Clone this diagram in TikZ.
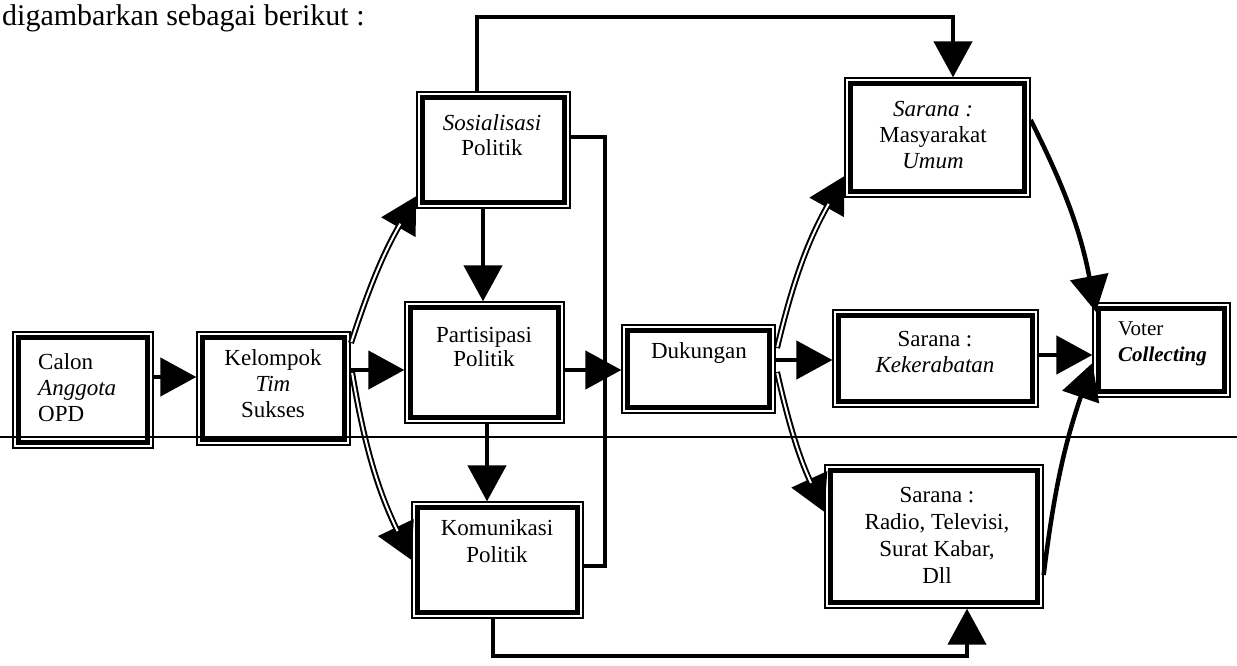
\documentclass[tikz,border=0pt]{standalone}
\usepackage{fontspec}
\setmainfont{Liberation Serif}
\usetikzlibrary{arrows.meta}
\begin{document}
\begin{tikzpicture}[x=1pt,y=-1pt,
  box/.style={draw, line width=1.3pt, inner sep=0pt},
  txt/.style={font=\fontsize{23}{26}\selectfont, align=center, inner sep=0pt, anchor=north},
  wire/.style={line width=4.5pt},
  tip/.style={-{Triangle[length=36pt,width=38pt]}},
  hollow/.style={line width=6pt, postaction={draw=white, line width=2pt, -, shorten >=32pt, shorten <=1pt}}
]
\useasboundingbox[fill=white] (0,0) rectangle (1237,665);

% lead-in sentence
\node[anchor=base west, inner sep=0pt, font=\fontsize{30}{32}\selectfont] (intro) at (2,25) {digambarkan sebagai berikut :};

% boxes (outer thin frame)
\node[box, minimum width=140pt, minimum height=116pt] (calon) at (83,390) {};
\node[box, minimum width=153pt, minimum height=113pt] (kel) at (273.5,388.5) {};
\node[box, minimum width=153pt, minimum height=116pt] (sos) at (493.5,150) {};
\node[box, minimum width=159pt, minimum height=121pt] (par) at (484.5,362.5) {};
\node[box, minimum width=171pt, minimum height=116pt] (kom) at (497.5,560) {};
\node[box, minimum width=153pt, minimum height=88pt] (duk) at (698.5,369) {};
\node[box, minimum width=185pt, minimum height=119pt] (mas) at (937.5,137.5) {};
\node[box, minimum width=205pt, minimum height=97pt] (ker) at (935.5,358.5) {};
\node[box, minimum width=137pt, minimum height=94pt] (vot) at (1161.5,350) {};
\node[box, minimum width=218pt, minimum height=143pt] (rad) at (934,536.5) {};

% inner thick frames
\foreach \n in {calon,kel,sos,par,kom,duk,mas,ker,vot,rad}
  \draw[line width=4.5pt] ([shift={(6pt,-6pt)}]\n.north west) rectangle ([shift={(-6pt,6pt)}]\n.south east);

% texts
\node[txt, anchor=north west, align=left] (tcalon) at (38,353) {Calon\\\textit{Anggota}\\OPD};
\node[txt] (tkel) at (273,349) {Kelompok\\\textit{Tim}\\Sukses};
\node[txt, font=\fontsize{23}{25}\selectfont] (tsos) at (492,114) {\textit{Sosialisasi}\\Politik};
\node[txt, font=\fontsize{23}{24}\selectfont] (tpar) at (484,327) {Partisipasi\\Politik};
\node[txt, font=\fontsize{23}{27}\selectfont] (tkom) at (497,519) {Komunikasi\\Politik};
\node[txt] (tduk) at (699,342) {Dukungan};
\node[txt] (tmas) at (933,101) {\textit{Sarana :}\\Masyarakat\\\textit{Umum}};
\node[txt] (tker) at (935,331) {Sarana :\\\textit{Kekerabatan}};
\node[txt, anchor=north west, align=left, font=\fontsize{21}{26}\selectfont] (tvot) at (1118,322) {Voter\\\textbf{\textit{Collecting}}};
\node[txt, font=\fontsize{23}{27}\selectfont] (trad) at (937,487) {Sarana :\\Radio, Televisi,\\Surat Kabar,\\Dll};

% connectors
\draw[wire,tip] (calon.east |- 0,377) -- (kel.west |- 0,377);
\draw[hollow,tip] (351,343) to[bend left=6] (sos.west |- 0,196);
\draw[wire,tip] (kel.east |- 0,370) -- (par.west |- 0,370);
\draw[hollow,tip] (352,372) to[bend right=8] (kom.west |- 0,560);
\draw[wire,tip] (sos.south -| 483,0) -- (par.north -| 483,0);
\draw[wire,tip] (par.south -| 487,0) -- (kom.north -| 487,0);
\draw[wire,tip] (sos.north -| 477,0) |- (953,17) -- (mas.north -| 953,0);
\draw[wire] (sos.east |- 0,137) -| (605,300) |- (kom.east |- 0,566);
\draw[wire,tip] (par.east |- 0,370) -- (duk.west |- 0,370);
\draw[wire,tip] (kom.south -| 493,0) |- (967,656) -- (rad.south -| 967,0);
\draw[hollow,tip] (777,348) to[bend left=8] (mas.west |- 0,176);
\draw[wire,tip] (duk.east |- 0,360) -- (ker.west |- 0,360);
\draw[hollow,tip] (777,372) to[bend right=6] (rad.west |- 0,512);
\draw[wire,tip] (mas.east |- 0,120) to[bend left=8] (1096,312);
\draw[wire,tip] (ker.east |- 0,355) -- (vot.west |- 0,355);
\draw[wire,tip] (rad.east |- 0,575) to[bend left=6] (vot.west |- 0,363);

% crease line running across the sheet
\draw[line width=1.1pt] (0,437) -- (1237,437);
\end{tikzpicture}
\end{document}
